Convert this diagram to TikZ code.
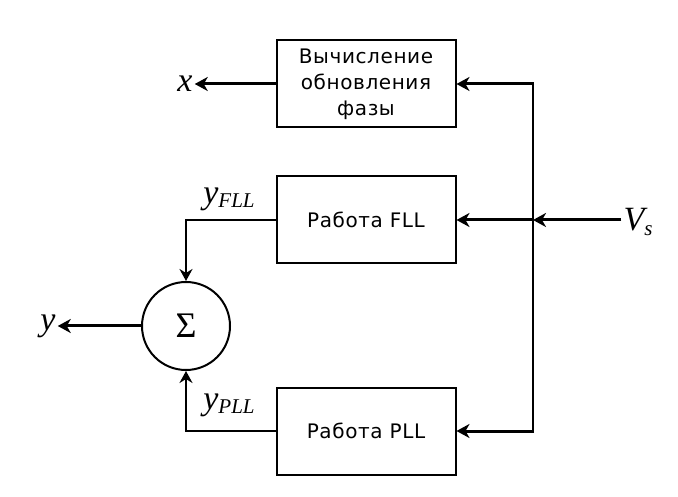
\documentclass[tikz,border=0pt]{standalone}
\usepackage{fontspec}
\usetikzlibrary{arrows.meta}
\newfontfamily\boxfont{DejaVu Sans}[LetterSpace=3]
\newfontfamily\lblfont{Liberation Serif}
\tikzset{
  blockbox/.style={draw,line width=2pt,minimum width=179pt,minimum height=87pt,
    align=center,font=\boxfont\fontsize{20}{26}\selectfont},
  sumcirc/.style={draw,circle,line width=2pt,minimum size=88pt,inner sep=0pt,
    font=\lblfont\fontsize{36}{36}\selectfont},
  lbl/.style={inner sep=2pt,font=\lblfont\itshape\fontsize{34}{34}\selectfont},
  sublbl/.style={inner sep=0pt,font=\lblfont\itshape\fontsize{34}{34}\selectfont},
  bigarrow/.style={line width=3pt,-{Stealth[length=13pt,width=14pt,inset=4pt]}},
  smallarrow/.style={line width=2.4pt,-{Stealth[length=12pt,width=13pt,inset=4pt]}}
}
\newcommand{\lowsub}[1]{\raisebox{-0.3ex}{\fontsize{21}{21}\selectfont #1}}
\begin{document}
\begin{tikzpicture}[x=1pt,y=-1pt]
\useasboundingbox (0,0) rectangle (678,497);
% blocks
\node[blockbox] (phase) at (366,84) {Вычисление\\обновления\\фазы};
\node[blockbox] (fll) at (366,220) {Работа FLL};
\node[blockbox] (pll) at (366,431) {Работа PLL};
\node[sumcirc] (sum) at (186,326) {Σ};
% labels
\node[lbl] (xlbl) at (185,84) {x};
\node[lbl] (ylbl) at (48,326) {y};
\node[lbl] (vslbl) at (638,222) {V\lowsub{s}};
\node[sublbl] (yfll) at (229,199) {y\lowsub{FLL}};
\node[sublbl] (ypll) at (229,405) {y\lowsub{PLL}};
% input bus
\coordinate (split) at (533,220);
\coordinate (vtop) at (533,84);
\coordinate (vbot) at (533,431);
\draw[line width=2pt] (vtop) -- (vbot);
\draw[bigarrow] (vslbl.west |- split) -- (split);
\draw[bigarrow] (split) -- (fll.east);
\draw[bigarrow] ([xshift=1pt]vtop) -- (phase.east);
\draw[bigarrow] ([xshift=1pt]vbot) -- (pll.east);
% outputs
\draw[bigarrow] (phase.west) -- (xlbl.east);
\draw[bigarrow] (sum.west) -- (ylbl.east);
\draw[smallarrow] (fll.west) -| (sum.north);
\draw[smallarrow] (pll.west) -| (sum.south);
\end{tikzpicture}
\end{document}
